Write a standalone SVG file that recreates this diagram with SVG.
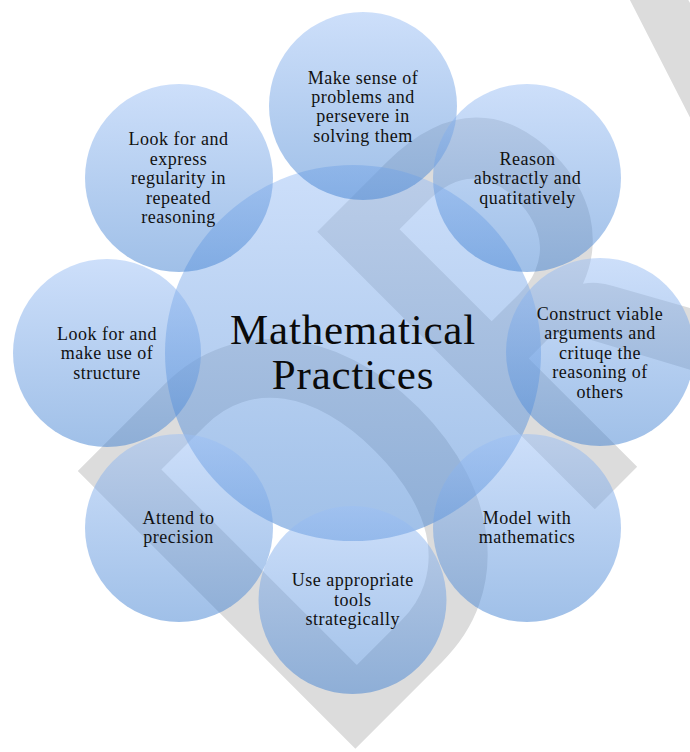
<svg xmlns="http://www.w3.org/2000/svg" width="690" height="752" viewBox="0 0 690 752">
  <defs>
    <linearGradient id="bubble" x1="0" y1="0" x2="0" y2="1">
      <stop offset="0" stop-color="#9bbff5"/>
      <stop offset="1" stop-color="#4181d1"/>
    </linearGradient>
    <style>
      .bub { fill: url(#bubble); fill-opacity: 0.5; }
      .lbl { font-family: "Liberation Serif", "Times New Roman", serif; font-size: 18px; letter-spacing: 0.5px; fill: #111111; text-anchor: middle; }
      .title { font-family: "Liberation Serif", "Times New Roman", serif; font-size: 43px; letter-spacing: 0.8px; fill: #0a0a0a; text-anchor: middle; }
      .wm { font-family: Lato, "Liberation Sans", sans-serif; font-weight: 700; font-size: 543px; fill: #dcdcdc; }
    </style>
  </defs>
  <rect width="690" height="752" fill="#ffffff"/>
  <g id="watermark" transform="translate(330,774) rotate(-45) scale(0.82,1)">
    <text class="wm" x="0" y="0">DR<tspan dx="35">AFT</tspan></text>
  </g>
  <g id="connectors"/>
  <g id="center">
    <circle class="bub" cx="353" cy="353" r="188"/>
    <text class="title" x="353" y="343.5">Mathematical</text>
    <text class="title" x="353" y="388.5">Practices</text>
  </g>
  <g id="node-top">
    <circle class="bub" cx="363" cy="106" r="94"/>
    <text class="lbl" x="363" y="83.5">Make sense of</text>
    <text class="lbl" x="363" y="103">problems and</text>
    <text class="lbl" x="363" y="122.4">persevere in</text>
    <text class="lbl" x="363" y="141.8">solving them</text>
  </g>
  <g id="node-top-right">
    <circle class="bub" cx="527" cy="178" r="94"/>
    <text class="lbl" x="527.5" y="165">Reason</text>
    <text class="lbl" x="527.5" y="184.4">abstractly and</text>
    <text class="lbl" x="527.5" y="203.8">quatitatively</text>
  </g>
  <g id="node-right">
    <circle class="bub" cx="600" cy="352" r="94"/>
    <text class="lbl" x="600" y="320">Construct viable</text>
    <text class="lbl" x="600" y="339.4">arguments and</text>
    <text class="lbl" x="600" y="358.8">crituqe the</text>
    <text class="lbl" x="600" y="378.2">reasoning of</text>
    <text class="lbl" x="600" y="397.6">others</text>
  </g>
  <g id="node-bottom-right">
    <circle class="bub" cx="527" cy="528" r="94"/>
    <text class="lbl" x="527" y="524">Model with</text>
    <text class="lbl" x="527" y="543">mathematics</text>
  </g>
  <g id="node-bottom">
    <circle class="bub" cx="352.5" cy="600" r="94"/>
    <text class="lbl" x="352.7" y="586">Use appropriate</text>
    <text class="lbl" x="352.7" y="605.5">tools</text>
    <text class="lbl" x="352.7" y="625">strategically</text>
  </g>
  <g id="node-bottom-left">
    <circle class="bub" cx="179" cy="528" r="94"/>
    <text class="lbl" x="178.5" y="524">Attend to</text>
    <text class="lbl" x="178.5" y="543">precision</text>
  </g>
  <g id="node-left">
    <circle class="bub" cx="107" cy="353" r="94"/>
    <text class="lbl" x="107" y="339.5">Look for and</text>
    <text class="lbl" x="107" y="359">make use of</text>
    <text class="lbl" x="107" y="378.5">structure</text>
  </g>
  <g id="node-top-left">
    <circle class="bub" cx="179" cy="178" r="94"/>
    <text class="lbl" x="178.5" y="145">Look for and</text>
    <text class="lbl" x="178.5" y="164.6">express</text>
    <text class="lbl" x="178.5" y="184.2">regularity in</text>
    <text class="lbl" x="178.5" y="203.8">repeated</text>
    <text class="lbl" x="178.5" y="223.4">reasoning</text>
  </g>
</svg>
